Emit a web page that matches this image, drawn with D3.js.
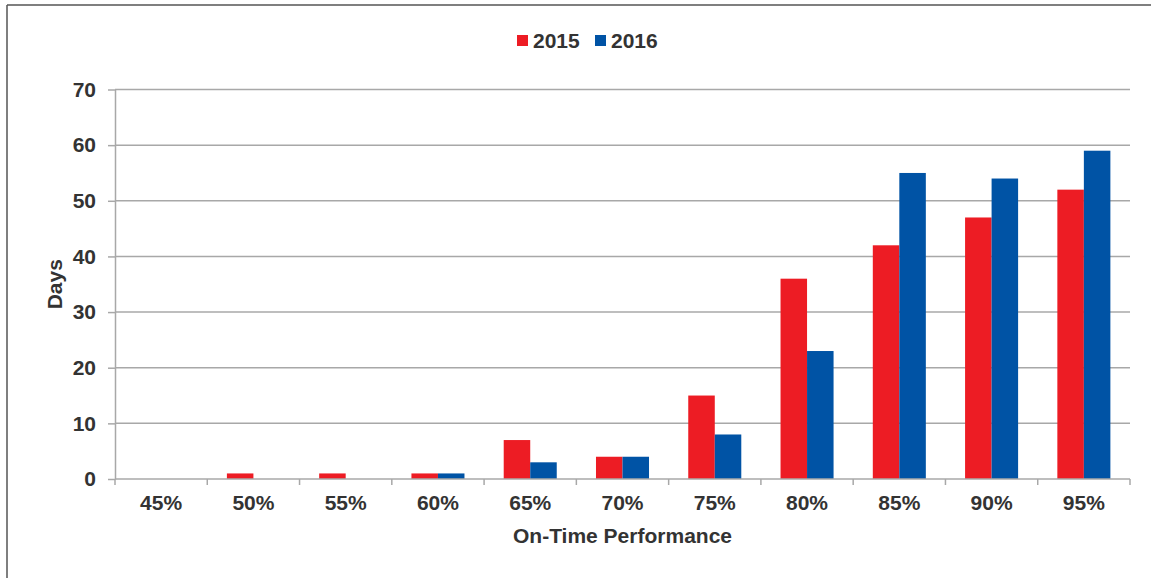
<!DOCTYPE html>
<html lang="en">
<head>
    <meta charset="UTF-8">
    <title>On-Time Performance</title>
    <script src="https://d3js.org/d3.v7.min.js"></script>
    <style>
        body { margin: 0; background: #fff; }
        svg text {
            font-family: "Liberation Sans", Arial, sans-serif;
            font-weight: bold;
            fill: #333;
        }
        .grid line { stroke: #a8a8a8; stroke-width: 1.5px; }
        .axis path, .axis line { stroke: #a8a8a8; stroke-width: 1.5px; }
    </style>
</head>
<body>
    <svg width="1151" height="578"></svg>
    <script>
        const categories = ["45%", "50%", "55%", "60%", "65%", "70%", "75%", "80%", "85%", "90%", "95%"];
        const seriesNames = ["2015", "2016"];
        const values2015 = [0, 1, 1, 1, 7, 4, 15, 36, 42, 47, 52];
        const values2016 = [0, 0, 0, 1, 3, 4, 8, 23, 55, 54, 59];
        const yTicks = [0, 10, 20, 30, 40, 50, 60, 70];
        const colors = ["#ed1c24", "#0053a5"];

        const svg = d3.select("svg");
        const margin = {left: 115, right: 21, top: 89.5, bottom: 99};
        const width = 1151, height = 578;

        // frame around the chart
        svg.append("line").attr("x1", 7).attr("x2", 7).attr("y1", 5).attr("y2", height)
            .attr("stroke", "#555").attr("stroke-width", 1.5);
        svg.append("line").attr("x1", 7).attr("x2", width).attr("y1", 5).attr("y2", 5)
            .attr("stroke", "#555").attr("stroke-width", 1.5);

        const x0 = d3.scaleBand()
            .domain(categories)
            .range([margin.left, width - margin.right])
            .padding(0);

        const x1 = d3.scaleBand()
            .domain(seriesNames)
            .range([0, x0.bandwidth()])
            .paddingInner(0)
            .paddingOuter(0.74);

        const y = d3.scaleLinear()
            .domain([0, 70])
            .range([height - margin.bottom, margin.top]);

        // gridlines
        svg.append("g").attr("class", "grid")
            .selectAll("line")
            .data(yTicks.filter(d => d > 0))
            .enter().append("line")
            .attr("x1", margin.left)
            .attr("x2", width - margin.right)
            .attr("y1", d => y(d))
            .attr("y2", d => y(d));

        const rows = categories.map((c, i) => ({cat: c, vals: [values2015[i], values2016[i]]}));

        const groups = svg.append("g")
            .selectAll("g")
            .data(rows)
            .enter().append("g")
            .attr("transform", d => `translate(${x0(d.cat)},0)`);

        groups.selectAll("rect")
            .data(d => d.vals.map((v, j) => ({key: seriesNames[j], value: v, j: j})))
            .enter().append("rect")
            .attr("x", d => x1(d.key))
            .attr("width", x1.bandwidth())
            .attr("y", d => y(d.value))
            .attr("height", d => y(0) - y(d.value))
            .attr("fill", d => colors[d.j]);

        // y axis
        const yAxis = svg.append("g").attr("class", "axis")
            .attr("transform", `translate(${margin.left},0)`)
            .call(d3.axisLeft(y).tickValues(yTicks).tickSize(7).tickSizeOuter(0).tickPadding(12));
        yAxis.selectAll("text").style("font-size", "21px");

        // x axis with ticks at category boundaries
        const xAxis = svg.append("g").attr("class", "axis")
            .attr("transform", `translate(0,${y(0)})`);
        xAxis.append("line")
            .attr("x1", margin.left).attr("x2", width - margin.right)
            .attr("y1", 0).attr("y2", 0);
        xAxis.selectAll(".bt")
            .data(categories.concat(["end"]))
            .enter().append("line")
            .attr("x1", (d, i) => i < categories.length ? x0(d) : x0.range()[1])
            .attr("x2", (d, i) => i < categories.length ? x0(d) : x0.range()[1])
            .attr("y1", 0).attr("y2", 6);
        xAxis.selectAll("text")
            .data(categories)
            .enter().append("text")
            .attr("x", d => x0(d) + x0.bandwidth() / 2)
            .attr("y", 31)
            .attr("text-anchor", "middle")
            .style("font-size", "21px")
            .text(d => d);

        // axis titles
        svg.append("text")
            .attr("x", (margin.left + width - margin.right) / 2)
            .attr("y", 543)
            .attr("text-anchor", "middle")
            .style("font-size", "21px")
            .text("On-Time Performance");

        svg.append("text")
            .attr("transform", `translate(62,${(y(0) + y(70)) / 2}) rotate(-90)`)
            .attr("text-anchor", "middle")
            .style("font-size", "21px")
            .text("Days");

        // legend
        const legend = svg.append("g");
        const legendX = [517, 595];
        seriesNames.forEach((s, i) => {
            legend.append("rect")
                .attr("x", legendX[i]).attr("y", 35)
                .attr("width", 11).attr("height", 11)
                .attr("fill", colors[i]);
            legend.append("text")
                .attr("x", legendX[i] + 16).attr("y", 48)
                .style("font-size", "21px")
                .text(s);
        });
    </script>
</body>
</html>
